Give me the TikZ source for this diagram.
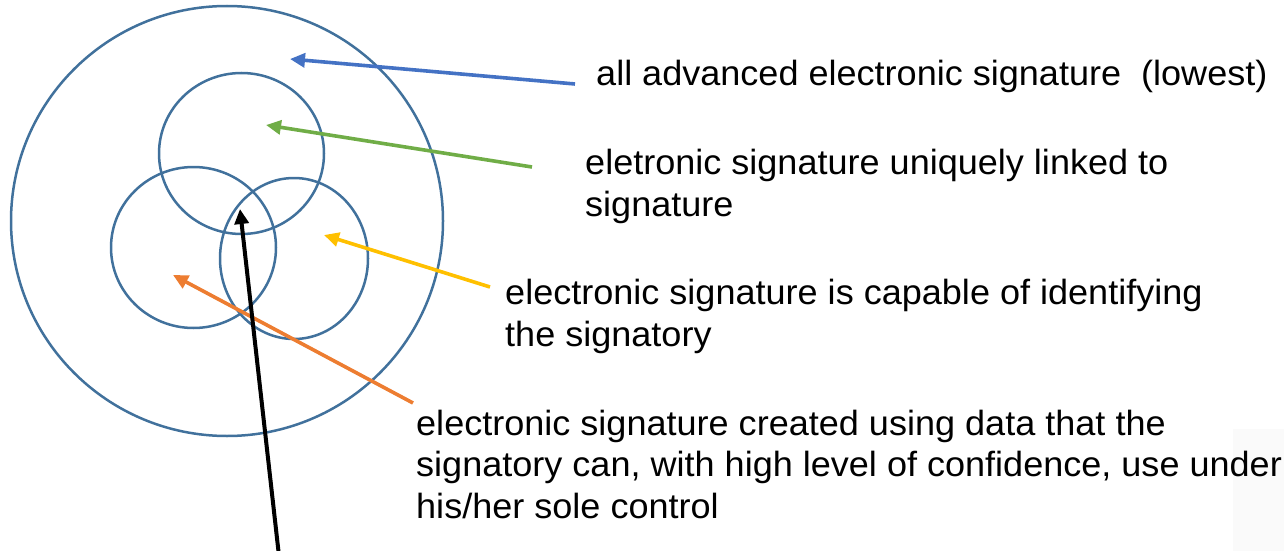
\documentclass[tikz,border=0pt]{standalone}
\usepackage{fontspec}
\setmainfont[FakeStretch=1.03]{Liberation Sans}
\usetikzlibrary{arrows.meta,shapes.geometric}

\definecolor{ringblue}{HTML}{41719C}
\definecolor{arrblue}{HTML}{4472C4}
\definecolor{arrgreen}{HTML}{70AD47}
\definecolor{arryellow}{HTML}{FFC000}
\definecolor{arrorange}{HTML}{ED7D31}

\tikzset{
  ring/.style={ellipse, draw=ringblue, line width=2.5pt, inner sep=0pt},
  pointer/.style={line width=3.6pt, -{Triangle[length=15pt,width=14pt]}},
  label/.style={anchor=base west, inner sep=0pt, align=left,
    font=\fontsize{35}{41.5}\selectfont},
}

\begin{document}
\begin{tikzpicture}[x=1pt,y=-1pt]
  \useasboundingbox (0,0) rectangle (1284,551);
  \fill[black!2] (1233,429) rectangle (1284,551);

  % nested sets
  \node[ring, minimum width=432pt, minimum height=430pt] (outer) at (227,221) {};
  \node[ring, minimum width=165pt, minimum height=161pt] (top) at (241.5,153.5) {};
  \node[ring, minimum width=165pt, minimum height=161pt] (left) at (193.5,247.5) {};
  \node[ring, minimum width=148pt, minimum height=161pt] (right) at (294,258.5) {};

  % descriptions (each placed on the baseline of its last line)
  \node[label] (t1) at (596,85) {all advanced electronic signature\ \ (lowest)};
  \node[label] (t2) at (585,216) {eletronic signature uniquely linked to\\signature};
  \node[label] (t3) at (505,346) {electronic signature is capable of identifying\\the signatory};
  \node[label] (t4) at (416,518) {electronic signature created using data that the\\signatory can, with high level of confidence, use under\\his/her sole control};

  % arrow ends
  \coordinate (b0) at (575,84);   \coordinate (b1) at (290,59);
  \coordinate (g0) at (532,167);  \coordinate (g1) at (266,125);
  \coordinate (y0) at (490,287);  \coordinate (y1) at (324,235);
  \coordinate (o0) at (413,403);  \coordinate (o1) at (173,275);
  \coordinate (k0) at (279,556);  \coordinate (k1) at (240,209);

  \draw[pointer, arrblue]   (b0) -- (b1);
  \draw[pointer, arrgreen]  (g0) -- (g1);
  \draw[pointer, arryellow] (y0) -- (y1);
  \draw[pointer, arrorange] (o0) -- (o1);
  \draw[pointer, black, line width=4pt] (k0) -- (k1);
\end{tikzpicture}
\end{document}
